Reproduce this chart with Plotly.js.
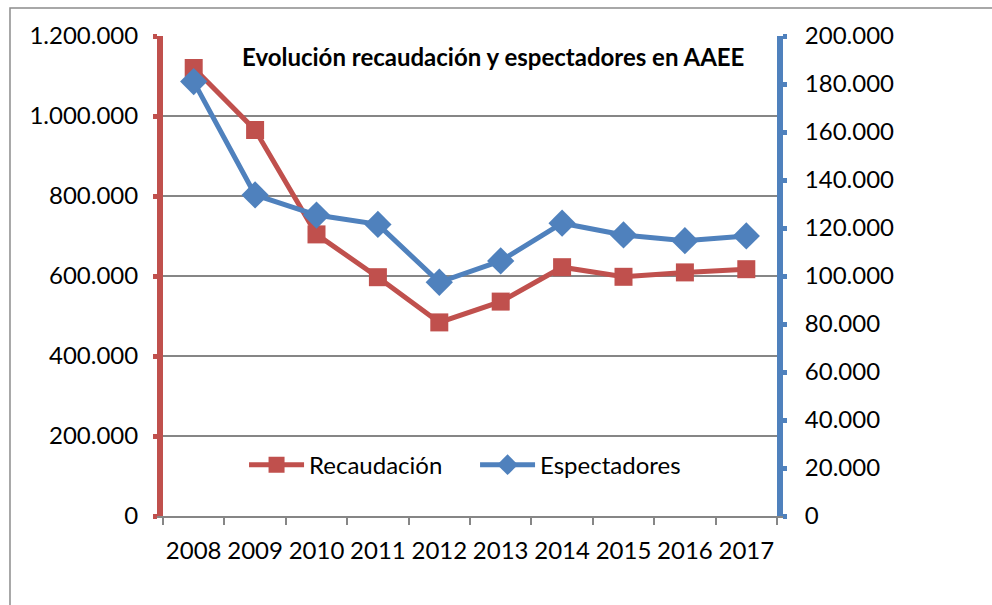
<!DOCTYPE html>
<html>
<head>
<meta charset="utf-8">
<script src="https://cdn.plot.ly/plotly-3.0.1.min.js"></script>
<style>
  body { margin: 0; background: #fff; }
  #chart { width: 992px; height: 605px; }
</style>
</head>
<body>
<div id="chart"></div>
<script>
// Data ------------------------------------------------------------------------
const years = ['2008', '2009', '2010', '2011', '2012', '2013', '2014', '2015', '2016', '2017']
const recaudacion = [1120000, 965000, 704000, 597000, 484000, 536000, 622000, 598000, 609000, 617000]
const espectadores = [181000, 133800, 125400, 121500, 97400, 106300, 122000, 117100, 114700, 116700]

// Style -----------------------------------------------------------------------
const red = '#C0504D'
const blue = '#4F81BD'
const grey = '#868686'
const fontFamily = 'Lato, "Open Sans", sans-serif'

const traces = [
  {
    name: 'Recaudación',
    x: years,
    y: recaudacion,
    type: 'scatter',
    mode: 'lines+markers',
    line: { color: red, width: 5 },
    marker: { symbol: 'square', size: 18, color: red }
  },
  {
    name: 'Espectadores',
    x: years,
    y: espectadores,
    yaxis: 'y2',
    type: 'scatter',
    mode: 'lines+markers',
    line: { color: blue, width: 5 },
    marker: { symbol: 'diamond', size: 21, color: blue }
  }
]

const layout = {
  width: 992,
  height: 605,
  margin: { l: 163, r: 215, t: 36, b: 89 },
  paper_bgcolor: '#fff',
  plot_bgcolor: '#fff',
  separators: ',.',
  font: { family: fontFamily, size: 24, color: '#000' },
  showlegend: true,
  legend: {
    orientation: 'h',
    x: 0.132,
    y: 0.106,
    xanchor: 'left',
    yanchor: 'middle',
    itemwidth: 55,
    entrywidth: 161,
    bgcolor: 'rgba(0,0,0,0)',
    font: { family: fontFamily, size: 24 }
  },
  xaxis: {
    type: 'category',
    range: [-0.5, 9.5],
    tickson: 'boundaries',
    tickangle: 0,
    ticks: 'outside',
    ticklen: 7,
    tickwidth: 2,
    tickcolor: grey,
    showline: true,
    linecolor: grey,
    linewidth: 2,
    showgrid: false,
    ticklabelstandoff: 12,
    fixedrange: true
  },
  yaxis: {
    range: [0, 1200000],
    dtick: 200000,
    tickformat: ',d',
    showgrid: true,
    gridcolor: grey,
    gridwidth: 2,
    zeroline: false,
    showline: true,
    linecolor: red,
    linewidth: 6,
    ticks: 'outside',
    ticklen: 4,
    tickwidth: 5,
    tickcolor: red,
    ticklabelstandoff: 10,
    fixedrange: true
  },
  yaxis2: {
    overlaying: 'y',
    side: 'right',
    range: [0, 200000],
    dtick: 20000,
    tickformat: ',d',
    showgrid: false,
    zeroline: false,
    showline: true,
    linecolor: blue,
    linewidth: 6,
    ticks: 'outside',
    ticklen: 4,
    tickwidth: 5,
    tickcolor: blue,
    ticklabelstandoff: 13,
    fixedrange: true
  },
  annotations: [
    {
      text: '<b>Evolución recaudación y espectadores en AAEE</b>',
      xref: 'paper',
      yref: 'paper',
      x: 0.537,
      y: 0.958,
      xanchor: 'center',
      yanchor: 'middle',
      showarrow: false,
      font: { family: fontFamily, size: 24, color: '#000' }
    }
  ],
  shapes: [
    // chart frame: left and top edges only are visible
    {
      type: 'rect',
      xref: 'paper',
      yref: 'paper',
      x0: -0.2492,
      x1: 1.4,
      y0: -0.25,
      y1: 1.0583,
      line: { color: '#8c8c8c', width: 1.5 },
      fillcolor: 'rgba(0,0,0,0)',
      layer: 'below'
    }
  ]
}

Plotly.newPlot('chart', traces, layout, { displayModeBar: false, staticPlot: true })
</script>
</body>
</html>
